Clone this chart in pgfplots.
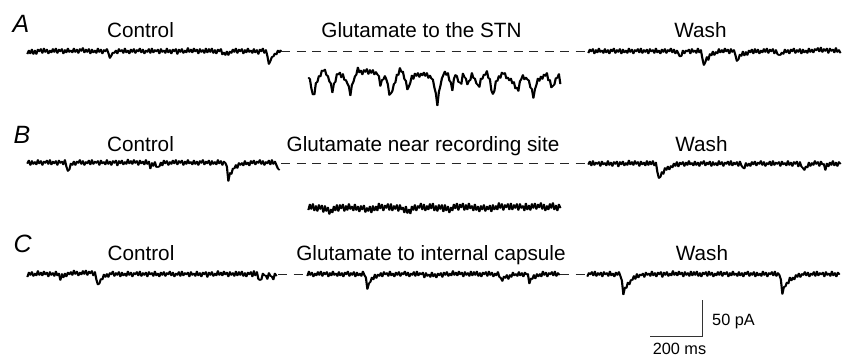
\documentclass[border=0pt]{standalone}
\usepackage{pgfplots}
\usepackage{pgfplotstable}
\pgfplotsset{compat=1.18}
\usepackage{fontspec}
\setmainfont{Liberation Sans}
\pgfplotsset{trace/.style={black,line width=1.4pt,line join=round,no marks},
 base/.style={black!85,line width=0.7pt,dash pattern=on 9pt off 6.5pt,no marks}}
\newcommand\lab{\fontsize{20.7}{24}\selectfont}
\newcommand\lett{\fontsize{25}{28}\selectfont\itshape}
\newcommand\sml{\fontsize{16.3}{19}\selectfont}
% each trace: downward offsets from the baseline, in half-pixel units, one sample per 1.5 px
\pgfplotstableread[header=false,row sep=\\]{
6\\ -1\\ 5\\ -3\\ 6\\ -1\\ 6\\ -3\\ 1\\ -4\\
4\\ -5\\ 2\\ -3\\ 5\\ -1\\ 3\\ -4\\ 2\\ -5\\
4\\ -3\\ 1\\ -4\\ 5\\ -2\\ 3\\ -5\\ 2\\ -1\\
3\\ -5\\ 2\\ -3\\ 4\\ -4\\ 0\\ -6\\ 3\\ -3\\
2\\ -4\\ 5\\ -3\\ 3\\ -1\\ 4\\ -5\\ 2\\ -3\\
5\\ -2\\ 1\\ -4\\ 4\\ 14\\ 9\\ 3\\ 4\\ -1\\
5\\ -4\\ 1\\ -2\\ 4\\ -5\\ 3\\ -1\\ 5\\ -3\\
2\\ -4\\ 4\\ -2\\ 1\\ -5\\ 3\\ -3\\ 5\\ -1\\
2\\ -4\\ 4\\ -5\\ 3\\ -2\\ 1\\ -3\\ 5\\ -4\\
2\\ -1\\ 4\\ -5\\ 3\\ -2\\ 5\\ -3\\ 1\\ -4\\
6\\ -3\\ 2\\ -4\\ 4\\ -1\\ 3\\ -6\\ 2\\ -3\\
3\\ -5\\ 1\\ -3\\ 5\\ -4\\ 2\\ -2\\ 4\\ -5\\
3\\ -4\\ 2\\ -5\\ 4\\ -2\\ 5\\ -3\\ 1\\ -4\\
7\\ 3\\ 8\\ 1\\ 8\\ 1\\ 4\\ -3\\ 2\\ -5\\
4\\ -3\\ 1\\ -4\\ 5\\ -2\\ 3\\ -5\\ 2\\ -1\\
4\\ -4\\ 3\\ -2\\ 6\\ -3\\ 1\\ -5\\ 4\\ -2\\
10\\ 26\\ 20\\ 12\\ 11\\ 5\\ 7\\ -1\\ 3\\ -2\\
}\tAa
\pgfplotstableread[header=false,row sep=\\]{
5\\ 8\\ 27\\ 39\\ 39\\ 16\\ 14\\ 2\\ 3\\ -9\\
-8\\ -11\\ 0\\ 2\\ 13\\ 17\\ 35\\ 17\\ 14\\ -2\\
-1\\ -5\\ 5\\ -2\\ 10\\ 10\\ 17\\ 23\\ 41\\ 20\\
14\\ 3\\ -1\\ -15\\ -5\\ -9\\ -1\\ -10\\ -6\\ -12\\
-2\\ -10\\ -4\\ -10\\ -1\\ -6\\ -1\\ 2\\ 22\\ 10\\
9\\ 2\\ 9\\ 19\\ 40\\ 37\\ 32\\ 18\\ 15\\ -1\\
0\\ -14\\ -6\\ -7\\ 8\\ 12\\ 29\\ 23\\ 15\\ 1\\
8\\ -3\\ 2\\ -4\\ 4\\ -3\\ 1\\ -5\\ 2\\ -4\\
6\\ 1\\ 7\\ 9\\ 25\\ 37\\ 61\\ 34\\ 22\\ 7\\
0\\ -7\\ 0\\ -4\\ 11\\ 15\\ 31\\ 8\\ 0\\ 2\\
14\\ 15\\ 18\\ -3\\ 4\\ 7\\ 19\\ 12\\ 10\\ -4\\
6\\ 7\\ 17\\ 20\\ 24\\ 7\\ 8\\ -1\\ 0\\ -8\\
6\\ 8\\ 31\\ 38\\ 32\\ 12\\ 12\\ 2\\ 6\\ -5\\
-2\\ -4\\ 7\\ 5\\ 11\\ 7\\ 17\\ 14\\ 27\\ 25\\
32\\ 13\\ 8\\ 0\\ 9\\ 5\\ 9\\ 11\\ 25\\ 28\\
46\\ 29\\ 20\\ 7\\ 12\\ 3\\ 8\\ -1\\ 2\\ -4\\
11\\ 10\\ 25\\ 22\\ 19\\ 6\\ 6\\ -2\\ 18\\
}\tAb
\pgfplotstableread[header=false,row sep=\\]{
4\\ -3\\ 1\\ -4\\ 5\\ -2\\ 3\\ -5\\ 2\\ -1\\
4\\ -4\\ 3\\ -2\\ 5\\ -3\\ 1\\ -5\\ 4\\ -2\\
2\\ -4\\ 5\\ -3\\ 3\\ -1\\ 4\\ -5\\ 2\\ -3\\
5\\ -2\\ 1\\ -4\\ 3\\ -5\\ 4\\ -2\\ 2\\ -3\\
5\\ -4\\ 1\\ -2\\ 4\\ -5\\ 3\\ -1\\ 5\\ -3\\
2\\ -4\\ 4\\ -2\\ 1\\ -5\\ 3\\ -3\\ 5\\ -1\\
5\\ 11\\ 10\\ -1\\ 5\\ -1\\ 1\\ -3\\ 5\\ -4\\
2\\ -1\\ 4\\ -5\\ 3\\ -2\\ 15\\ 28\\ 22\\ 12\\
18\\ 6\\ 9\\ 1\\ 8\\ 2\\ 5\\ -4\\ 3\\ -2\\
3\\ -5\\ 1\\ -3\\ 5\\ -4\\ 2\\ -2\\ 8\\ 20\\
17\\ 7\\ 10\\ 1\\ 9\\ 2\\ 8\\ -1\\ 3\\ -3\\
5\\ -4\\ 3\\ -3\\ 5\\ -1\\ 3\\ -4\\ 2\\ -5\\
4\\ -3\\ 1\\ -4\\ 5\\ -2\\ 6\\ 8\\ 8\\ 3\\
6\\ -3\\ 3\\ -2\\ 5\\ -3\\ 1\\ -5\\ 4\\ -2\\
2\\ -4\\ 5\\ -3\\ 3\\ -1\\ 4\\ -5\\ 2\\ -3\\
3\\ -4\\ -1\\ -6\\ 1\\ -7\\ 2\\ -4\\ 0\\ -5\\
4\\ -5\\ 0\\ -3\\ 3\\ -6\\ 2\\ -2\\ 4\\
}\tAc
\pgfplotstableread[header=false,row sep=\\]{
2\\ -4\\ 5\\ -3\\ 3\\ -1\\ 4\\ -5\\ 2\\ -3\\
5\\ -2\\ 1\\ -4\\ 3\\ -5\\ 4\\ -2\\ 2\\ -3\\
5\\ -4\\ 1\\ -2\\ 4\\ -5\\ 8\\ 17\\ 14\\ 2\\
5\\ -2\\ 5\\ -2\\ 1\\ -5\\ 3\\ -3\\ 5\\ -1\\
2\\ -4\\ 4\\ -5\\ 3\\ -2\\ 1\\ -3\\ 5\\ -4\\
2\\ -1\\ 4\\ -5\\ 3\\ -2\\ 5\\ -3\\ 1\\ -4\\
6\\ -3\\ 2\\ -4\\ 4\\ -1\\ 3\\ -6\\ 2\\ -3\\
3\\ -5\\ 1\\ -3\\ 5\\ -4\\ 2\\ -2\\ 4\\ -5\\
3\\ -2\\ 12\\ 1\\ 7\\ -1\\ 9\\ 9\\ 8\\ 0\\
6\\ -4\\ 2\\ -3\\ 5\\ -1\\ 3\\ -4\\ 2\\ -5\\
4\\ -3\\ 1\\ -4\\ 5\\ -2\\ 3\\ -5\\ 2\\ -1\\
4\\ -4\\ 3\\ -2\\ 5\\ -3\\ 1\\ -5\\ 4\\ -2\\
2\\ -4\\ 5\\ -3\\ 3\\ -1\\ 4\\ -5\\ 2\\ -3\\
5\\ -2\\ 1\\ 8\\ 37\\ 21\\ 23\\ 12\\ 12\\ 5\\
11\\ 1\\ 5\\ 1\\ 6\\ -3\\ 4\\ 0\\ 6\\ -3\\
2\\ -4\\ 4\\ -2\\ 1\\ -5\\ 3\\ -3\\ 5\\ -1\\
2\\ -4\\ 4\\ -5\\ 3\\ -2\\ 5\\ 12\\ 15\\
}\tBa
\pgfplotstableread[header=false,row sep=\\]{
5\\ -6\\ 3\\ -7\\ 6\\ -3\\ 7\\ -5\\ 3\\ -4\\
9\\ -3\\ 7\\ 0\\ 13\\ 4\\ 10\\ -2\\ 6\\ -5\\
7\\ -5\\ 2\\ -6\\ 7\\ -3\\ 5\\ -7\\ 3\\ -2\\
6\\ -6\\ 5\\ -2\\ 8\\ -3\\ 4\\ -4\\ 9\\ 1\\
7\\ -2\\ 10\\ -3\\ 6\\ -2\\ 6\\ -8\\ 2\\ -6\\
6\\ -4\\ 1\\ -7\\ 5\\ -7\\ 6\\ -3\\ 3\\ -5\\
7\\ -5\\ 4\\ 0\\ 10\\ -2\\ 11\\ 4\\ 12\\ -2\\
5\\ -5\\ 6\\ -3\\ 1\\ -8\\ 4\\ -6\\ 6\\ -3\\
4\\ -7\\ 2\\ -8\\ 6\\ -3\\ 7\\ -5\\ 3\\ -5\\
8\\ -5\\ 6\\ -2\\ 10\\ 0\\ 6\\ -6\\ 2\\ -8\\
5\\ -6\\ 0\\ -8\\ 5\\ -5\\ 4\\ -8\\ 2\\ -3\\
6\\ -6\\ 5\\ -2\\ 8\\ -3\\ 4\\ -5\\ 7\\ -2\\
4\\ -4\\ 8\\ -5\\ 4\\ -3\\ 4\\ -9\\ 1\\ -7\\
5\\ -5\\ 0\\ -7\\ 4\\ -8\\ 4\\ -5\\ 1\\ -7\\
5\\ -7\\ 1\\ -3\\ 6\\ -8\\ 4\\ -4\\ 5\\ -7\\
1\\ -8\\ 3\\ -6\\ 0\\ -9\\ 3\\ -6\\ 6\\ -3\\
4\\ -7\\ 1\\ -9\\ 4\\ -4\\ 6\\ -6\\ 1\\
}\tBb
\pgfplotstableread[header=false,row sep=\\]{
2\\ -4\\ 4\\ -5\\ 3\\ -2\\ 1\\ -3\\ 5\\ -4\\
2\\ -1\\ 4\\ -5\\ 3\\ -2\\ 5\\ -3\\ 1\\ -4\\
6\\ -3\\ 2\\ -4\\ 4\\ -1\\ 3\\ -6\\ 2\\ -3\\
3\\ -5\\ 1\\ -3\\ 5\\ -4\\ 2\\ -2\\ 4\\ -5\\
3\\ -4\\ 2\\ -5\\ 4\\ -2\\ 17\\ 29\\ 27\\ 17\\
21\\ 9\\ 13\\ 6\\ 12\\ 5\\ 8\\ 0\\ 5\\ -3\\
6\\ -2\\ 2\\ -3\\ 5\\ -2\\ 3\\ -5\\ 2\\ -1\\
4\\ -4\\ 3\\ -2\\ 5\\ -3\\ 1\\ -5\\ 4\\ -2\\
2\\ -4\\ 5\\ -3\\ 3\\ -1\\ 4\\ -5\\ 2\\ -3\\
5\\ -2\\ 1\\ -4\\ 3\\ -5\\ 4\\ -2\\ 2\\ -3\\
5\\ -4\\ 4\\ 8\\ 10\\ -1\\ 5\\ 0\\ 5\\ -3\\
2\\ -4\\ 4\\ -2\\ 1\\ -5\\ 3\\ -3\\ 5\\ -1\\
2\\ -4\\ 4\\ -5\\ 3\\ -2\\ 1\\ -3\\ 5\\ -4\\
2\\ -1\\ 4\\ -5\\ 3\\ -2\\ 5\\ -3\\ 1\\ -4\\
6\\ -3\\ 6\\ 9\\ 13\\ 6\\ 8\\ -2\\ 5\\ -1\\
3\\ -5\\ 1\\ -3\\ 5\\ -4\\ 2\\ 1\\ 13\\ 0\\
6\\ -2\\ 3\\ -5\\ 4\\ -2\\ 5\\ -3\\ 1\\
}\tBc
\pgfplotstableread[header=false,row sep=\\]{
6\\ -3\\ 2\\ -4\\ 4\\ -1\\ 3\\ -6\\ 2\\ -3\\
3\\ -5\\ 1\\ -3\\ 5\\ -4\\ 2\\ -2\\ 4\\ -5\\
3\\ -1\\ 12\\ 0\\ 7\\ -1\\ 5\\ -3\\ 1\\ -4\\
2\\ -7\\ 0\\ -5\\ 3\\ -3\\ 1\\ -6\\ 0\\ -7\\
2\\ -5\\ -1\\ -6\\ 3\\ -4\\ 11\\ 21\\ 19\\ 10\\
11\\ 1\\ 6\\ 0\\ 6\\ -2\\ 1\\ -5\\ 4\\ -2\\
2\\ -4\\ 5\\ -3\\ 3\\ -1\\ 4\\ -5\\ 2\\ -3\\
5\\ -2\\ 1\\ -4\\ 3\\ -5\\ 4\\ -2\\ 2\\ -3\\
5\\ -4\\ 1\\ -2\\ 4\\ -5\\ 3\\ -1\\ 5\\ -3\\
2\\ -4\\ 4\\ -2\\ 1\\ -5\\ 3\\ -3\\ 5\\ -1\\
2\\ -4\\ 4\\ -5\\ 3\\ -2\\ 1\\ -3\\ 5\\ -4\\
2\\ -1\\ 4\\ -5\\ 3\\ -2\\ 5\\ -3\\ 1\\ -4\\
6\\ -3\\ 2\\ -4\\ 4\\ -1\\ 3\\ -6\\ 2\\ -3\\
3\\ -5\\ 1\\ -3\\ 5\\ -4\\ 2\\ -2\\ 4\\ -5\\
3\\ -4\\ 2\\ -5\\ 4\\ -2\\ 5\\ -3\\ 1\\ -4\\
5\\ -6\\ 3\\ -4\\ 10\\ 12\\ 11\\ -1\\ 3\\ 3\\
10\\ -2\\ 4\\ 5\\ 11\\ -1\\ 4\\
}\tCa
\pgfplotstableread[header=false,row sep=\\]{
4\\ -5\\ 2\\ -3\\ 5\\ -1\\ 3\\ -4\\ 2\\ -5\\
4\\ -3\\ 1\\ -4\\ 5\\ -2\\ 3\\ -5\\ 2\\ -1\\
4\\ -4\\ 3\\ -2\\ 5\\ -3\\ 1\\ -5\\ 4\\ -2\\
2\\ -4\\ 5\\ -3\\ 3\\ -1\\ 4\\ -5\\ 2\\ 7\\
30\\ 19\\ 16\\ 7\\ 11\\ 1\\ 8\\ 1\\ 4\\ -2\\
5\\ -4\\ 1\\ -2\\ 4\\ -5\\ 3\\ -1\\ 5\\ -3\\
2\\ -4\\ 4\\ -2\\ 1\\ -5\\ 3\\ -3\\ 5\\ -1\\
2\\ -4\\ 4\\ -5\\ 3\\ -2\\ 1\\ -3\\ 7\\ -2\\
4\\ 1\\ 6\\ -3\\ 5\\ 0\\ 7\\ -1\\ 3\\ -2\\
6\\ -3\\ 2\\ -4\\ 4\\ -1\\ 3\\ -6\\ 2\\ -3\\
3\\ -5\\ 1\\ -3\\ 5\\ -4\\ 2\\ -2\\ 4\\ -5\\
3\\ -4\\ 2\\ -5\\ 4\\ -2\\ 5\\ -3\\ 1\\ -4\\
4\\ -5\\ 2\\ -3\\ 5\\ -1\\ 3\\ -4\\ 6\\ 8\\
14\\ 5\\ 8\\ 2\\ 10\\ 2\\ 6\\ -3\\ 3\\ 0\\
4\\ -4\\ 3\\ -2\\ 5\\ -3\\ 1\\ 0\\ 19\\ 9\\
10\\ 2\\ 9\\ 0\\ 5\\ 0\\ 5\\ -5\\ 2\\ -3\\
5\\ -2\\ 1\\ -4\\ 3\\ -5\\ 4\\ -2\\ 2\\
}\tCb
\pgfplotstableread[header=false,row sep=\\]{
5\\ -2\\ 1\\ -4\\ 3\\ -5\\ 4\\ -2\\ 2\\ -3\\
5\\ -4\\ 1\\ -2\\ 4\\ -5\\ 3\\ -1\\ 5\\ -3\\
2\\ -4\\ 4\\ 13\\ 41\\ 27\\ 28\\ 17\\ 21\\ 12\\
12\\ 4\\ 10\\ 0\\ 7\\ 1\\ 3\\ -1\\ 6\\ -3\\
2\\ -1\\ 4\\ -5\\ 3\\ -2\\ 5\\ -3\\ 1\\ -4\\
6\\ -3\\ 2\\ -4\\ 4\\ -1\\ 3\\ -6\\ 2\\ -3\\
3\\ -5\\ 1\\ -3\\ 5\\ -4\\ 2\\ -2\\ 4\\ -5\\
3\\ -4\\ 2\\ -5\\ 4\\ -2\\ 5\\ -3\\ 1\\ -4\\
4\\ -5\\ 2\\ -3\\ 5\\ -1\\ 3\\ -4\\ 2\\ -5\\
4\\ -3\\ 1\\ -4\\ 5\\ -2\\ 3\\ -5\\ 2\\ -1\\
4\\ -4\\ 3\\ -2\\ 5\\ -3\\ 1\\ -5\\ 4\\ -2\\
2\\ -4\\ 5\\ -3\\ 3\\ -1\\ 4\\ -5\\ 2\\ -3\\
5\\ -2\\ 1\\ -4\\ 3\\ -5\\ 4\\ -2\\ 2\\ 11\\
40\\ 26\\ 25\\ 17\\ 19\\ 7\\ 13\\ 7\\ 11\\ 2\\
6\\ -1\\ 6\\ 0\\ 2\\ -4\\ 3\\ -3\\ 5\\ -1\\
2\\ -4\\ 4\\ -5\\ 3\\ -2\\ 1\\ -3\\ 5\\ -4\\
2\\ -1\\ 4\\ -5\\ 3\\ -2\\ 5\\ -3\\ 1\\
}\tCc
% draw a trace twice, the second copy 0.75 px to the right, so that the noise band is solid
\newcommand\tr[3]{%
 \addplot[trace] table[x index=0,y index=0,x expr=\coordindex*1.5+#2,y expr=#3-0.5*\thisrowno{0}]{#1};
 \addplot[trace] table[x index=0,y index=0,x expr=\coordindex*1.5+#2+0.75,y expr=#3-0.5*\thisrowno{0}]{#1};}
\begin{document}
\begin{tikzpicture}
\begin{axis}[x=1pt,y=1pt,xmin=0,xmax=844,ymin=0,ymax=357,hide axis,clip=false]
\path (axis cs:0,0) rectangle (axis cs:844,357);
\tr{\tAa}{27}{306}
\tr{\tAb}{308}{282}
\tr{\tAc}{588}{306}
\addplot[base] coordinates {(281,306) (588,306)};
\tr{\tBa}{27}{194.5}
\tr{\tBb}{308}{149.5}
\tr{\tBc}{588}{193.5}
\addplot[base] coordinates {(281,194) (588,194)};
\tr{\tCa}{27}{83}
\tr{\tCb}{307}{83}
\tr{\tCc}{587}{83}
\addplot[base] coordinates {(278,83) (307,83)};
\addplot[base] coordinates {(560,83) (587,83)};
% scale bar
\addplot[black!80,line width=0.8pt,no marks] coordinates {(650,21) (702,21) (702,57)};
% text
\node[anchor=base west,font=\lett] at (axis cs:9,324) {A};
\node[anchor=base west,font=\lett] at (axis cs:10,214) {B};
\node[anchor=base west,font=\lett] at (axis cs:10,104.5) {C};
\node[anchor=base,font=\lab] at (axis cs:140.5,319.5) {Control};
\node[anchor=base,font=\lab] at (axis cs:421.5,319.5) {Glutamate to the STN};
\node[anchor=base,font=\lab] at (axis cs:700.5,319.5) {Wash};
\node[anchor=base,font=\lab] at (axis cs:140.5,206) {Control};
\node[anchor=base,font=\lab] at (axis cs:423,206) {Glutamate near recording site};
\node[anchor=base,font=\lab] at (axis cs:701.5,206) {Wash};
\node[anchor=base,font=\lab] at (axis cs:141,96.5) {Control};
\node[anchor=base,font=\lab] at (axis cs:431,96.5) {Glutamate to internal capsule};
\node[anchor=base,font=\lab] at (axis cs:702,96.5) {Wash};
\node[anchor=base west,font=\sml,inner sep=0pt] at (axis cs:712,32) {50 pA};
\node[anchor=base,font=\sml,inner sep=0pt] at (axis cs:679.5,3) {200 ms};
\end{axis}
\end{tikzpicture}
\end{document}
